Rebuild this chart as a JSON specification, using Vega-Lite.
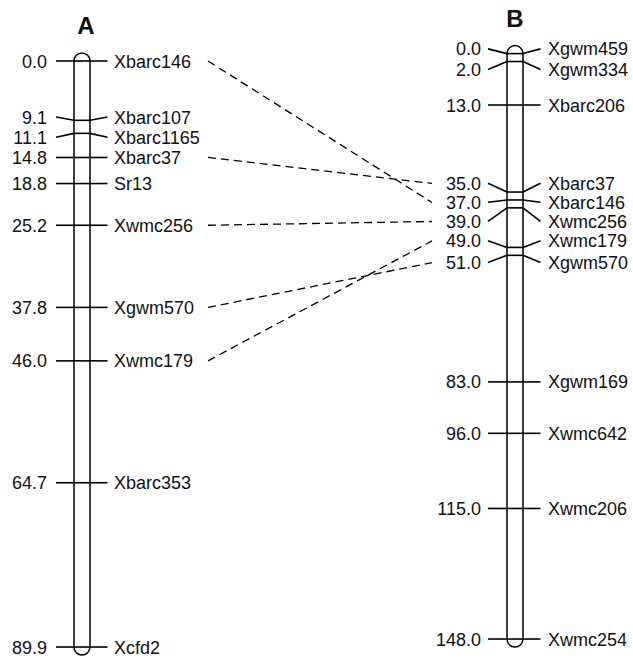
{
  "$schema": "https://vega.github.io/schema/vega-lite/v6.json",
  "width": 633,
  "height": 659,
  "autosize": {"type": "none"},
  "padding": 0,
  "background": "white",
  "config": {"view": {"stroke": null}, "text": {"font": "Liberation Sans", "color": "#111"}},
  "datasets": {
    "markers": [
      {"chr": "A", "cM": 0.0, "lab": 0.0, "marker": "Xbarc146"},
      {"chr": "A", "cM": 9.1, "lab": 8.6, "marker": "Xbarc107"},
      {"chr": "A", "cM": 11.1, "lab": 11.7, "marker": "Xbarc1165"},
      {"chr": "A", "cM": 14.8, "lab": 14.8, "marker": "Xbarc37"},
      {"chr": "A", "cM": 18.8, "lab": 18.8, "marker": "Sr13"},
      {"chr": "A", "cM": 25.2, "lab": 25.2, "marker": "Xwmc256"},
      {"chr": "A", "cM": 37.8, "lab": 37.8, "marker": "Xgwm570"},
      {"chr": "A", "cM": 46.0, "lab": 46.0, "marker": "Xwmc179"},
      {"chr": "A", "cM": 64.7, "lab": 64.7, "marker": "Xbarc353"},
      {"chr": "A", "cM": 89.9, "lab": 89.9, "marker": "Xcfd2"},
      {"chr": "B", "cM": 0.0, "lab": -1.2, "marker": "Xgwm459"},
      {"chr": "B", "cM": 2.0, "lab": 4.0, "marker": "Xgwm334"},
      {"chr": "B", "cM": 13.0, "lab": 13.0, "marker": "Xbarc206"},
      {"chr": "B", "cM": 35.0, "lab": 32.8, "marker": "Xbarc37"},
      {"chr": "B", "cM": 37.0, "lab": 37.6, "marker": "Xbarc146"},
      {"chr": "B", "cM": 39.0, "lab": 42.4, "marker": "Xwmc256"},
      {"chr": "B", "cM": 49.0, "lab": 47.3, "marker": "Xwmc179"},
      {"chr": "B", "cM": 51.0, "lab": 52.8, "marker": "Xgwm570"},
      {"chr": "B", "cM": 83.0, "lab": 83.0, "marker": "Xgwm169"},
      {"chr": "B", "cM": 96.0, "lab": 96.0, "marker": "Xwmc642"},
      {"chr": "B", "cM": 115.0, "lab": 115.0, "marker": "Xwmc206"},
      {"chr": "B", "cM": 148.0, "lab": 148.0, "marker": "Xwmc254"}
    ]
  },
  "layer": [
    {
      "data": {"name": "markers"},
      "transform": [{"filter": "datum.chr == 'A'"}],
      "layer": [
        {
          "mark": {"type": "rect", "xOffset": -8, "x2Offset": 8, "yOffset": -8, "y2Offset": 8, "cornerRadius": 8, "fill": "white", "stroke": "black", "strokeWidth": 1.5},
          "encoding": {
            "x": {"field": "chr", "type": "nominal", "scale": {"type": "point", "domain": ["A", "B"], "range": [82, 515], "padding": 0}, "axis": null},
            "x2": {"field": "chr"},
            "y": {"aggregate": "min", "field": "cM", "type": "quantitative", "scale": {"domain": [0, 89.9], "range": [61, 647], "nice": false, "zero": false}, "axis": null},
            "y2": {"aggregate": "max", "field": "cM"}
          }
        },
        {
          "mark": {"type": "rule", "xOffset": -26, "x2Offset": -8, "strokeWidth": 1.6, "color": "black"},
          "encoding": {
            "x": {"field": "chr", "type": "nominal", "scale": {"type": "point", "domain": ["A", "B"], "range": [82, 515], "padding": 0}, "axis": null},
            "x2": {"field": "chr"},
            "y": {"field": "lab", "type": "quantitative", "scale": {"domain": [0, 89.9], "range": [61, 647], "nice": false, "zero": false}, "axis": null},
            "y2": {"field": "cM"}
          }
        },
        {
          "mark": {"type": "rule", "xOffset": -8, "x2Offset": 8, "strokeWidth": 1.6, "color": "black"},
          "encoding": {
            "x": {"field": "chr", "type": "nominal", "scale": {"type": "point", "domain": ["A", "B"], "range": [82, 515], "padding": 0}, "axis": null},
            "x2": {"field": "chr"},
            "y": {"field": "cM", "type": "quantitative", "scale": {"domain": [0, 89.9], "range": [61, 647], "nice": false, "zero": false}, "axis": null}
          }
        },
        {
          "mark": {"type": "rule", "xOffset": 8, "x2Offset": 25.5, "strokeWidth": 1.6, "color": "black"},
          "encoding": {
            "x": {"field": "chr", "type": "nominal", "scale": {"type": "point", "domain": ["A", "B"], "range": [82, 515], "padding": 0}, "axis": null},
            "x2": {"field": "chr"},
            "y": {"field": "cM", "type": "quantitative", "scale": {"domain": [0, 89.9], "range": [61, 647], "nice": false, "zero": false}, "axis": null},
            "y2": {"field": "lab"}
          }
        },
        {
          "mark": {"type": "text", "align": "right", "baseline": "middle", "xOffset": -35, "dy": 1.5, "fontSize": 18},
          "encoding": {
            "x": {"field": "chr", "type": "nominal", "scale": {"type": "point", "domain": ["A", "B"], "range": [82, 515], "padding": 0}, "axis": null},
            "y": {"field": "lab", "type": "quantitative", "scale": {"domain": [0, 89.9], "range": [61, 647], "nice": false, "zero": false}, "axis": null},
            "text": {"field": "cM", "type": "quantitative", "format": ".1f"}
          }
        },
        {
          "mark": {"type": "text", "align": "left", "baseline": "middle", "xOffset": 32, "dy": 1.5, "fontSize": 18},
          "encoding": {
            "x": {"field": "chr", "type": "nominal", "scale": {"type": "point", "domain": ["A", "B"], "range": [82, 515], "padding": 0}, "axis": null},
            "y": {"field": "lab", "type": "quantitative", "scale": {"domain": [0, 89.9], "range": [61, 647], "nice": false, "zero": false}, "axis": null},
            "text": {"field": "marker", "type": "nominal"}
          }
        },
        {
          "mark": {"type": "text", "align": "center", "baseline": "middle", "xOffset": 4, "yOffset": -34, "fontSize": 24, "fontWeight": "bold"},
          "encoding": {
            "x": {"field": "chr", "type": "nominal", "scale": {"type": "point", "domain": ["A", "B"], "range": [82, 515], "padding": 0}, "axis": null},
            "y": {"aggregate": "min", "field": "cM", "type": "quantitative", "scale": {"domain": [0, 89.9], "range": [61, 647], "nice": false, "zero": false}, "axis": null},
            "text": {"field": "chr", "type": "nominal"}
          }
        }
      ]
    },
    {
      "data": {"name": "markers"},
      "transform": [{"filter": "datum.chr == 'B'"}],
      "layer": [
        {
          "mark": {"type": "rect", "xOffset": -8, "x2Offset": 8, "yOffset": -8, "y2Offset": 8, "cornerRadius": 8, "fill": "white", "stroke": "black", "strokeWidth": 1.5},
          "encoding": {
            "x": {"field": "chr", "type": "nominal", "scale": {"type": "point", "domain": ["A", "B"], "range": [82, 515], "padding": 0}, "axis": null},
            "x2": {"field": "chr"},
            "y": {"aggregate": "min", "field": "cM", "type": "quantitative", "scale": {"domain": [0, 148], "range": [53.6, 639], "nice": false, "zero": false}, "axis": null},
            "y2": {"aggregate": "max", "field": "cM"}
          }
        },
        {
          "mark": {"type": "rule", "xOffset": -27, "x2Offset": -8, "strokeWidth": 1.6, "color": "black"},
          "encoding": {
            "x": {"field": "chr", "type": "nominal", "scale": {"type": "point", "domain": ["A", "B"], "range": [82, 515], "padding": 0}, "axis": null},
            "x2": {"field": "chr"},
            "y": {"field": "lab", "type": "quantitative", "scale": {"domain": [0, 148], "range": [53.6, 639], "nice": false, "zero": false}, "axis": null},
            "y2": {"field": "cM"}
          }
        },
        {
          "mark": {"type": "rule", "xOffset": -8, "x2Offset": 8, "strokeWidth": 1.6, "color": "black"},
          "encoding": {
            "x": {"field": "chr", "type": "nominal", "scale": {"type": "point", "domain": ["A", "B"], "range": [82, 515], "padding": 0}, "axis": null},
            "x2": {"field": "chr"},
            "y": {"field": "cM", "type": "quantitative", "scale": {"domain": [0, 148], "range": [53.6, 639], "nice": false, "zero": false}, "axis": null}
          }
        },
        {
          "mark": {"type": "rule", "xOffset": 8, "x2Offset": 25.5, "strokeWidth": 1.6, "color": "black"},
          "encoding": {
            "x": {"field": "chr", "type": "nominal", "scale": {"type": "point", "domain": ["A", "B"], "range": [82, 515], "padding": 0}, "axis": null},
            "x2": {"field": "chr"},
            "y": {"field": "cM", "type": "quantitative", "scale": {"domain": [0, 148], "range": [53.6, 639], "nice": false, "zero": false}, "axis": null},
            "y2": {"field": "lab"}
          }
        },
        {
          "mark": {"type": "text", "align": "right", "baseline": "middle", "xOffset": -34, "dy": 1.5, "fontSize": 18},
          "encoding": {
            "x": {"field": "chr", "type": "nominal", "scale": {"type": "point", "domain": ["A", "B"], "range": [82, 515], "padding": 0}, "axis": null},
            "y": {"field": "lab", "type": "quantitative", "scale": {"domain": [0, 148], "range": [53.6, 639], "nice": false, "zero": false}, "axis": null},
            "text": {"field": "cM", "type": "quantitative", "format": ".1f"}
          }
        },
        {
          "mark": {"type": "text", "align": "left", "baseline": "middle", "xOffset": 33, "dy": 1.5, "fontSize": 18},
          "encoding": {
            "x": {"field": "chr", "type": "nominal", "scale": {"type": "point", "domain": ["A", "B"], "range": [82, 515], "padding": 0}, "axis": null},
            "y": {"field": "lab", "type": "quantitative", "scale": {"domain": [0, 148], "range": [53.6, 639], "nice": false, "zero": false}, "axis": null},
            "text": {"field": "marker", "type": "nominal"}
          }
        },
        {
          "mark": {"type": "text", "align": "center", "baseline": "middle", "yOffset": -34, "fontSize": 24, "fontWeight": "bold"},
          "encoding": {
            "x": {"field": "chr", "type": "nominal", "scale": {"type": "point", "domain": ["A", "B"], "range": [82, 515], "padding": 0}, "axis": null},
            "y": {"aggregate": "min", "field": "cM", "type": "quantitative", "scale": {"domain": [0, 148], "range": [53.6, 639], "nice": false, "zero": false}, "axis": null},
            "text": {"field": "chr", "type": "nominal"}
          }
        }
      ]
    },
    {
      "data": {"name": "markers"},
      "transform": [
        {"joinaggregate": [{"op": "max", "field": "cM", "as": "len"}], "groupby": ["chr"]},
        {"joinaggregate": [{"op": "count", "as": "n"}], "groupby": ["marker"]},
        {"filter": "datum.n == 2"},
        {"calculate": "datum.lab / datum.len", "as": "rel"},
        {"pivot": "chr", "value": "rel", "groupby": ["marker"]}
      ],
      "mark": {"type": "rule", "strokeDash": [8, 5], "strokeWidth": 1.3, "color": "black", "xOffset": 126, "x2Offset": -83, "yOffset": 3.7, "y2Offset": -3.7},
      "encoding": {
        "x": {"datum": "A", "type": "nominal", "scale": {"type": "point", "domain": ["A", "B"], "range": [82, 515], "padding": 0}, "axis": null},
        "x2": {"datum": "B"},
        "y": {"field": "A", "type": "quantitative", "scale": {"domain": [0, 1], "range": [57.3, 643.3], "nice": false, "zero": false}, "axis": null},
        "y2": {"field": "B"}
      }
    }
  ],
  "resolve": {"scale": {"y": "independent"}}
}
